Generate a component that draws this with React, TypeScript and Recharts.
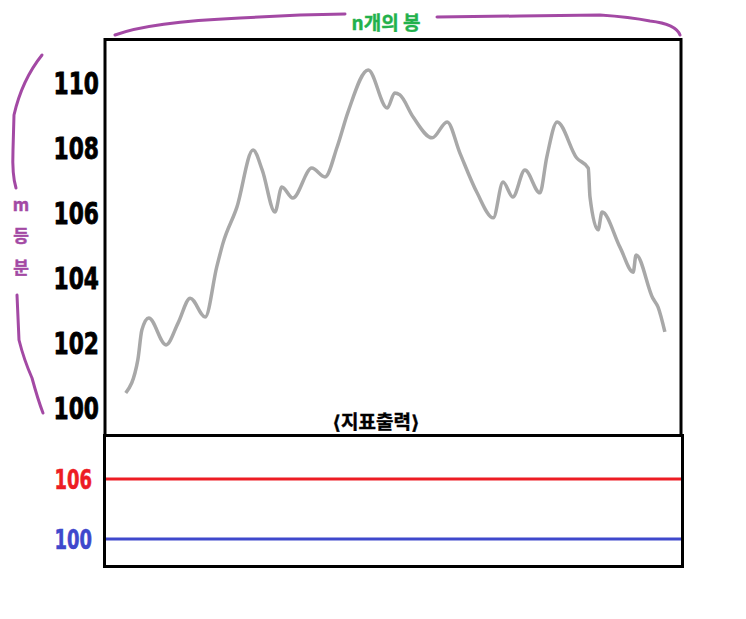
import React from 'react';
import { LineChart, Line, XAxis, YAxis } from 'recharts';

// bar position (0..100 across the panel) and price
const barIndex = [3.6, 5.7, 6.4, 7.6, 10.6, 12.7, 14.8, 17.4, 19.4, 20.5, 22.9, 25.7, 27.3, 29.5, 30.7, 32.6, 35.9, 38.2, 40.3, 42.2, 45.7, 49.0, 50.3, 51.2, 53.5, 56.8, 59.4, 61.6, 64.6, 67.4, 69.1, 70.8, 72.9, 75.5, 76.7, 78.5, 81.9, 83.9, 84.2, 85.6, 86.3, 89.4, 91.7, 92.2, 95.1, 96.0, 97.2];
const prices = [100.46, 101.48, 102.40, 102.77, 101.94, 102.62, 103.38, 102.80, 104.34, 105.08, 106.18, 107.94, 107.32, 106.03, 106.80, 106.46, 107.38, 107.11, 108.03, 109.11, 110.40, 109.23, 109.69, 109.63, 108.95, 108.31, 108.80, 107.85, 106.62, 105.85, 106.95, 106.49, 107.32, 106.62, 107.72, 108.80, 107.69, 107.38, 106.49, 105.48, 106.03, 104.95, 104.18, 104.71, 103.38, 103.11, 102.34];
const priceTicks = [100, 102, 104, 106, 108, 110];

const indicatorLevels = [106, 100];
const indicatorColors = ['#ed1c24', '#3f48cc'];
const indicatorSpan = [0, 100];

const topLabel = 'n개의 봉';
const sideLabel = ['m', '등', '분'];
const indicatorTitle = '⟨지표출력⟩';

const priceData = barIndex.map((x, i) => ({ x, price: prices[i] }));
const indicatorData = indicatorSpan.map((x) => ({ x, upper: indicatorLevels[0], lower: indicatorLevels[1] }));

const NARROW = "'DejaVu Sans Condensed', 'DejaVu Sans', sans-serif";
const KR = "'Noto Sans CJK KR', 'Noto Sans', sans-serif";
const PURPLE = '#a349a4';

const PriceTick = (props: any) => {
  const { y, payload } = props;
  return (
    <text
      transform={`translate(99, ${y}) scale(0.78, 1)`}
      dy="0.36em"
      textAnchor="end"
      fontFamily={NARROW}
      fontWeight="bold"
      fontSize={31}
      fill="#000"
      stroke="#000"
      strokeWidth={0.8}
    >
      {payload.value}
    </text>
  );
};

const IndicatorTick = (props: any) => {
  const { y, payload } = props;
  const idx = indicatorLevels.indexOf(payload.value);
  const c = indicatorColors[idx] || '#000';
  return (
    <text
      transform={`translate(92, ${y}) scale(0.74, 1)`}
      dy="0.36em"
      textAnchor="end"
      fontFamily={NARROW}
      fontWeight="bold"
      fontSize={27}
      fill={c}
      stroke={c}
      strokeWidth={0.6}
    >
      {payload.value}
    </text>
  );
};

export default function App() {
  return (
    <div style={{ position: 'absolute', left: 0, top: 0, width: 746, height: 619, background: '#fff' }}>
      <div style={{ position: 'absolute', left: 0, top: 0 }}>
        <LineChart width={746} height={619} data={priceData} margin={{ top: 40, right: 65, bottom: 183, left: 45 }}>
          <XAxis dataKey="x" type="number" domain={[0, 100]} hide />
          <YAxis
            type="number"
            domain={[99.14, 111.32]}
            ticks={priceTicks}
            width={60}
            axisLine={false}
            tickLine={false}
            tick={<PriceTick />}
            interval={0}
          />
          <Line type="monotone" dataKey="price" stroke="#a8a8a8" strokeWidth={3.5} dot={false} isAnimationActive={false} />
        </LineChart>
      </div>
      <div style={{ position: 'absolute', left: 0, top: 0 }}>
        <LineChart width={746} height={619} data={indicatorData} margin={{ top: 435, right: 62, bottom: 52, left: 45 }}>
          <XAxis dataKey="x" type="number" domain={[0, 100]} hide />
          <YAxis
            type="number"
            domain={[97.2, 110.4]}
            ticks={indicatorLevels}
            width={59}
            axisLine={false}
            tickLine={false}
            tick={<IndicatorTick />}
            interval={0}
          />
          <Line type="linear" dataKey="upper" stroke={indicatorColors[0]} strokeWidth={3} dot={false} isAnimationActive={false} />
          <Line type="linear" dataKey="lower" stroke={indicatorColors[1]} strokeWidth={3} dot={false} isAnimationActive={false} />
        </LineChart>
      </div>
      <svg width={746} height={619} style={{ position: 'absolute', left: 0, top: 0, pointerEvents: 'none' }}>
        <rect x={105} y={39.5} width={576} height={396} fill="none" stroke="#000" strokeWidth={3} />
        <rect x={104.5} y={435.5} width={578} height={131} fill="none" stroke="#000" strokeWidth={3} />
        {/* top brace */}
        <path d="M115,35 Q150,22 240,18 L300,15 L345,14" fill="none" stroke={PURPLE} strokeWidth={3} strokeLinecap="round" />
        <path d="M437,17 L520,16 L600,15 Q630,17 650,21 Q676,24 680,35" fill="none" stroke={PURPLE} strokeWidth={3} strokeLinecap="round" />
        {/* left brace */}
        <path d="M42,55 Q22,80 14,115 L13,150 Q12,175 16,188" fill="none" stroke={PURPLE} strokeWidth={3} strokeLinecap="round" />
        <path d="M17,295 L19,340 Q24,360 32,378 Q38,400 43,413" fill="none" stroke={PURPLE} strokeWidth={3} strokeLinecap="round" />
        <text x={386} y={23} dy="0.35em" textAnchor="middle" fontFamily={KR} fontWeight="bold" fontSize={19} fill="#22b14c" stroke="#22b14c" strokeWidth={0.4}>
          {topLabel}
        </text>
        <text fontFamily={KR} fontWeight="bold" fontSize={17} fill={PURPLE} stroke={PURPLE} strokeWidth={0.5} textAnchor="middle">
          {sideLabel.map((ch, i) => (
            <tspan key={i} x={21} y={[205, 236, 268][i]} dy="0.35em">{ch}</tspan>
          ))}
        </text>
        <text x={376} y={422} dy="0.35em" textAnchor="middle" fontFamily={"'DejaVu Sans', " + KR} fontWeight="bold" fontSize={19} fill="#000" stroke="#000" strokeWidth={0.4}>
          {indicatorTitle}
        </text>
      </svg>
    </div>
  );
}
